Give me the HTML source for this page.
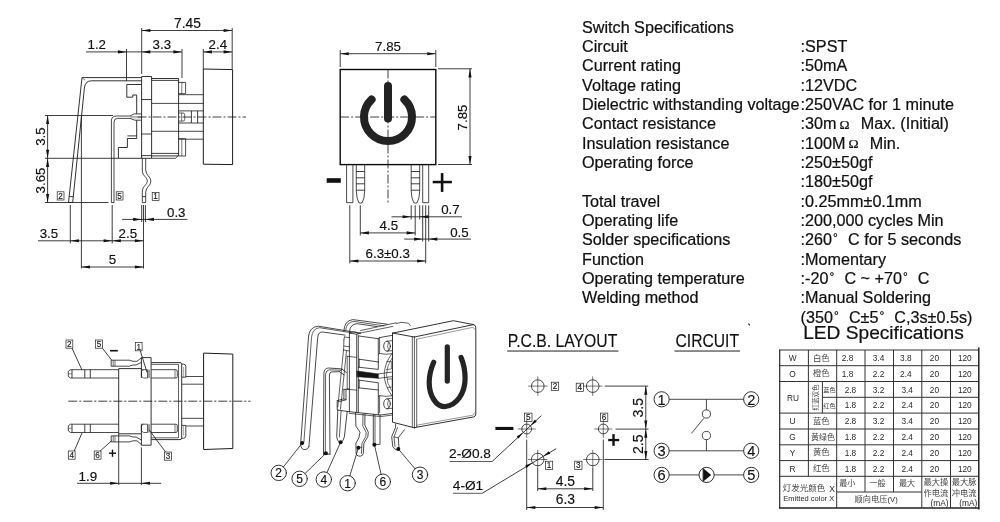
<!DOCTYPE html>
<html><head><meta charset="utf-8"><title>Switch drawing</title>
<style>
html,body{margin:0;padding:0;background:#fff;}
body{width:1000px;height:522px;overflow:hidden;}
svg{display:block;opacity:0.999;will-change:transform;}
svg text{font-family:"Liberation Sans","Noto Sans CJK SC",sans-serif;}
#spec text{stroke:#111;stroke-width:0.22px;}
#sideview text,#frontview text,#botview text,#pcb text,#circuit text,#iso text{stroke:#111;stroke-width:0.15px;}
</style></head><body>
<svg width="1000" height="522" viewBox="0 0 1000 522">
<rect x="0" y="0" width="1000" height="522" fill="#ffffff"/>
<g id="sideview">
<path d="M203.3,69 L232.6,69.6 L232.6,164.6 L203.3,164.2 Z" stroke="#1c1c1c" stroke-width="1.0" fill="none" />
<line x1="137.5" y1="117" x2="246" y2="117" stroke="#1c1c1c" stroke-width="0.85" stroke-dasharray="9 2 2 2"/>
<path d="M141.6,76.5 H151.6 V158.3 H141.6 Z" stroke="#1c1c1c" stroke-width="0.9" fill="none" />
<line x1="141.6" y1="99.5" x2="151.6" y2="99.5" stroke="#1c1c1c" stroke-width="0.85" />
<line x1="141.6" y1="134" x2="151.6" y2="134" stroke="#1c1c1c" stroke-width="0.85" />
<path d="M151.6,78.5 H178.6 V155.9 H151.6" stroke="#1c1c1c" stroke-width="0.9" fill="none" />
<line x1="151.6" y1="80.4" x2="178.6" y2="80.4" stroke="#1c1c1c" stroke-width="0.85" />
<line x1="151.6" y1="153.4" x2="178.6" y2="153.4" stroke="#1c1c1c" stroke-width="0.85" />
<path d="M151.6,158.3 H175.6 L177.8,155.9" stroke="#1c1c1c" stroke-width="0.8" fill="none" />
<line x1="141.6" y1="155.6" x2="151.6" y2="155.6" stroke="#1c1c1c" stroke-width="0.85" />
<path d="M178.6,82.4 H185.6 V93.7 H178.6" stroke="#1c1c1c" stroke-width="0.8" fill="none" />
<line x1="181.8" y1="82.4" x2="181.8" y2="94.7" stroke="#1c1c1c" stroke-width="0.6" />
<path d="M178.6,138.7 H185.6 V156 H178.6" stroke="#1c1c1c" stroke-width="0.8" fill="none" />
<line x1="181.8" y1="138.7" x2="181.8" y2="156" stroke="#1c1c1c" stroke-width="0.6" />
<line x1="178.6" y1="94.7" x2="203.3" y2="94.7" stroke="#1c1c1c" stroke-width="0.8" />
<line x1="178.6" y1="110.9" x2="203.3" y2="110.9" stroke="#1c1c1c" stroke-width="0.8" />
<line x1="178.6" y1="123" x2="203.3" y2="123" stroke="#1c1c1c" stroke-width="0.8" />
<line x1="178.6" y1="139.2" x2="203.3" y2="139.2" stroke="#1c1c1c" stroke-width="0.8" />
<line x1="151.6" y1="103.4" x2="203.3" y2="103.4" stroke="#1c1c1c" stroke-width="0.8" />
<line x1="151.6" y1="131.3" x2="203.3" y2="131.3" stroke="#1c1c1c" stroke-width="0.8" />
<path d="M178.6,113 H183 Q184.7,113 184.7,114.7 V119.4 Q184.7,121.1 183,121.1 H178.6" stroke="#1c1c1c" stroke-width="0.7" fill="none" />
<line x1="181.6" y1="113" x2="181.6" y2="121.1" stroke="#1c1c1c" stroke-width="0.6" />
<line x1="191.4" y1="110.9" x2="191.4" y2="123" stroke="#1c1c1c" stroke-width="0.85" />
<line x1="197.6" y1="110.9" x2="197.6" y2="123" stroke="#1c1c1c" stroke-width="0.85" />
<line x1="127.4" y1="135.9" x2="136.7" y2="135.9" stroke="#1c1c1c" stroke-width="0.85" />
<path d="M141.6,84.5 H126.8 V97.2 H132.8 V95 H136.7 V113.9 M136.7,120.2 V138.5 H127.4 V147.5 H118.4 V158.3 H141.6" stroke="#1c1c1c" stroke-width="0.9" fill="none" />
<path d="M141.6,77.6 H82 L68.5,202.5 H72.7 L84.4,88 Q85.2,80.8 91.5,80.8 H141.6" stroke="#1c1c1c" stroke-width="0.9" fill="none" />
<path d="M82,77.6 L85,80.2" stroke="#1c1c1c" stroke-width="0.6" fill="none" />
<line x1="69.2" y1="196.6" x2="73.3" y2="196.6" stroke="#1c1c1c" stroke-width="0.85" />
<path d="M111.4,202.5 V121 Q111.4,116 116.4,116 H130 L134.2,113.9 H141.4 M114,202.5 V122 Q114,118.4 117.6,118.4 H130 L134.9,120.2 H141.4 M111.4,202.5 H114" stroke="#1c1c1c" stroke-width="0.8" fill="none" />
<path d="M130,116.6 H141 M130,117.8 H141" stroke="#555" stroke-width="0.5" fill="none" />
<path d="M142.3,158.3 V171 C142.3,176 147.4,177 147.4,181 C147.4,185 142.3,186 142.3,191 V202.6 H145.7 V192 C145.7,187 150.9,186 150.9,181 C150.9,177 145.7,175 145.7,170 V158.3" stroke="#1c1c1c" stroke-width="0.8" fill="none" />
<line x1="142.3" y1="196.6" x2="145.7" y2="196.6" stroke="#1c1c1c" stroke-width="0.85" />
<line x1="141.7" y1="28" x2="141.7" y2="74" stroke="#1c1c1c" stroke-width="0.85" />
<line x1="232.2" y1="28" x2="232.2" y2="69" stroke="#1c1c1c" stroke-width="0.85" />
<line x1="141.7" y1="30.5" x2="232.2" y2="30.5" stroke="#1c1c1c" stroke-width="0.85" />
<polygon points="141.70,30.50 150.30,28.95 150.30,32.05" fill="#111"/>
<polygon points="232.20,30.50 223.60,32.05 223.60,28.95" fill="#111"/>
<text x="187.5" y="28.1" font-size="13.8" text-anchor="middle" fill="#111" >7.45</text>
<line x1="86" y1="51.9" x2="182" y2="51.9" stroke="#1c1c1c" stroke-width="0.85" />
<polygon points="126.50,51.90 117.90,53.45 117.90,50.35" fill="#111"/>
<polygon points="141.70,51.90 150.30,50.35 150.30,53.45" fill="#111"/>
<polygon points="182.00,51.90 173.40,53.45 173.40,50.35" fill="#111"/>
<line x1="126.5" y1="49" x2="126.5" y2="81" stroke="#1c1c1c" stroke-width="0.85" />
<line x1="182" y1="49" x2="182" y2="78" stroke="#1c1c1c" stroke-width="0.85" />
<text x="87.5" y="48.6" font-size="13.3" text-anchor="start" fill="#111" >1.2</text>
<text x="161.8" y="48.6" font-size="13.3" text-anchor="middle" fill="#111" >3.3</text>
<line x1="203.3" y1="51.9" x2="232.2" y2="51.9" stroke="#1c1c1c" stroke-width="0.85" />
<polygon points="203.30,51.90 211.90,50.35 211.90,53.45" fill="#111"/>
<polygon points="232.20,51.90 223.60,53.45 223.60,50.35" fill="#111"/>
<line x1="203.3" y1="49" x2="203.3" y2="69" stroke="#1c1c1c" stroke-width="0.85" />
<text x="217.8" y="48.6" font-size="13.3" text-anchor="middle" fill="#111" >2.4</text>
<line x1="45" y1="115.5" x2="113" y2="115.5" stroke="#1c1c1c" stroke-width="0.85" />
<line x1="45" y1="158.3" x2="118.4" y2="158.3" stroke="#1c1c1c" stroke-width="0.85" />
<line x1="45" y1="202.5" x2="108.5" y2="202.5" stroke="#1c1c1c" stroke-width="0.85" />
<line x1="47.6" y1="115.5" x2="47.6" y2="202.5" stroke="#1c1c1c" stroke-width="0.85" />
<polygon points="47.60,115.50 49.15,124.10 46.05,124.10" fill="#111"/>
<polygon points="47.60,158.30 46.05,149.70 49.15,149.70" fill="#111"/>
<polygon points="47.60,158.30 49.15,166.90 46.05,166.90" fill="#111"/>
<polygon points="47.60,202.50 46.05,193.90 49.15,193.90" fill="#111"/>
<text x="44.8" y="136.6" font-size="13.3" text-anchor="middle" fill="#111" transform="rotate(-90 44.8 136.6)" >3.5</text>
<text x="44.8" y="180.5" font-size="13.3" text-anchor="middle" fill="#111" transform="rotate(-90 44.8 180.5)" >3.65</text>
<line x1="70.3" y1="205" x2="70.3" y2="243.4" stroke="#1c1c1c" stroke-width="0.85" />
<line x1="81.4" y1="115.5" x2="81.4" y2="268.5" stroke="#1c1c1c" stroke-width="0.85" />
<line x1="112.2" y1="205" x2="112.2" y2="243.4" stroke="#1c1c1c" stroke-width="0.85" />
<line x1="141.7" y1="205" x2="141.7" y2="222" stroke="#1c1c1c" stroke-width="0.85" />
<line x1="145.4" y1="205" x2="145.4" y2="222" stroke="#1c1c1c" stroke-width="0.85" />
<line x1="143.5" y1="205" x2="143.5" y2="268.5" stroke="#1c1c1c" stroke-width="0.85" />
<line x1="122.2" y1="219.4" x2="187.4" y2="219.4" stroke="#1c1c1c" stroke-width="0.85" />
<polygon points="141.70,219.40 133.10,220.95 133.10,217.85" fill="#111"/>
<polygon points="145.40,219.40 154.00,217.85 154.00,220.95" fill="#111"/>
<text x="167" y="216.8" font-size="13.3" text-anchor="start" fill="#111" >0.3</text>
<line x1="38" y1="240.8" x2="143.5" y2="240.8" stroke="#1c1c1c" stroke-width="0.85" />
<polygon points="70.30,240.80 78.90,239.25 78.90,242.35" fill="#111"/>
<polygon points="112.20,240.80 103.60,242.35 103.60,239.25" fill="#111"/>
<polygon points="112.20,240.80 120.80,239.25 120.80,242.35" fill="#111"/>
<polygon points="143.50,240.80 134.90,242.35 134.90,239.25" fill="#111"/>
<text x="39.7" y="238.3" font-size="13.3" text-anchor="start" fill="#111" >3.5</text>
<text x="118.6" y="238.3" font-size="13.3" text-anchor="start" fill="#111" >2.5</text>
<line x1="81.4" y1="267" x2="143.5" y2="267" stroke="#1c1c1c" stroke-width="0.85" />
<polygon points="81.40,267.00 90.00,265.45 90.00,268.55" fill="#111"/>
<polygon points="143.50,267.00 134.90,268.55 134.90,265.45" fill="#111"/>
<text x="112.4" y="264" font-size="13.3" text-anchor="middle" fill="#111" >5</text>
<rect x="57.2" y="191.8" width="6.8" height="8.2" stroke="#222" stroke-width="0.7" fill="none"/>
<text x="60.6" y="198.7" font-size="8.2" text-anchor="middle" fill="#222" >2</text>
<rect x="116.2" y="191.8" width="6.8" height="8.2" stroke="#222" stroke-width="0.7" fill="none"/>
<text x="119.60000000000001" y="198.7" font-size="8.2" text-anchor="middle" fill="#222" >5</text>
<rect x="152.2" y="192.4" width="6.8" height="8.2" stroke="#222" stroke-width="0.7" fill="none"/>
<text x="155.6" y="199.29999999999998" font-size="8.2" text-anchor="middle" fill="#222" >1</text>
</g>
<g id="frontview">
<rect x="340.2" y="69.5" width="95.6" height="95.1" stroke="#0a0a0a" stroke-width="1.4" fill="none"/>
<line x1="340.2" y1="117" x2="435.8" y2="117" stroke="#1c1c1c" stroke-width="0.85" stroke-dasharray="9 2 2 2"/>
<line x1="388" y1="69.5" x2="388" y2="203" stroke="#1c1c1c" stroke-width="0.85" stroke-dasharray="9 2 2 2"/>
<line x1="388" y1="86" x2="388" y2="118.4" stroke="#222" stroke-width="8" stroke-linecap="round"/>
<path d="M371.63,99.45 A24,24 0 1 0 404.37,99.45" stroke="#222" stroke-width="8" stroke-linecap="round" fill="none"/>
<path d="M346.6,164.6 V202.7 H352.9 V164.6" stroke="#1c1c1c" stroke-width="0.8" fill="none" />
<path d="M422.7,164.6 V202.7 H428.7 V164.6" stroke="#1c1c1c" stroke-width="0.8" fill="none" />
<path d="M356.3,164.6 V191 Q356.6,199 358.8,202.6 Q360.5,203.8 362.2,202.6 Q364.4,199 364.7,191 V164.6" stroke="#1c1c1c" stroke-width="0.8" fill="none" />
<line x1="356.3" y1="171.5" x2="364.7" y2="171.5" stroke="#1c1c1c" stroke-width="0.85" />
<line x1="356.3" y1="177.8" x2="364.7" y2="177.8" stroke="#1c1c1c" stroke-width="0.85" />
<line x1="356.3" y1="183.8" x2="364.7" y2="183.8" stroke="#1c1c1c" stroke-width="0.85" />
<line x1="356.3" y1="190.2" x2="364.7" y2="190.2" stroke="#1c1c1c" stroke-width="0.85" />
<path d="M411.2,164.6 V191 Q411.5,199 413.75,202.6 Q415.45,203.8 417.15,202.6 Q419.4,199 419.7,191 V164.6" stroke="#1c1c1c" stroke-width="0.8" fill="none" />
<line x1="411.2" y1="171.5" x2="419.7" y2="171.5" stroke="#1c1c1c" stroke-width="0.85" />
<line x1="411.2" y1="177.8" x2="419.7" y2="177.8" stroke="#1c1c1c" stroke-width="0.85" />
<line x1="411.2" y1="183.8" x2="419.7" y2="183.8" stroke="#1c1c1c" stroke-width="0.85" />
<line x1="411.2" y1="190.2" x2="419.7" y2="190.2" stroke="#1c1c1c" stroke-width="0.85" />
<rect x="326.7" y="178.2" width="14.1" height="4.6" fill="#111"/>
<rect x="432.7" y="180.8" width="19.2" height="2.5" fill="#111"/><rect x="440.8" y="173.1" width="2.6" height="18.8" fill="#111"/>
<line x1="340.2" y1="50" x2="340.2" y2="67" stroke="#1c1c1c" stroke-width="0.85" />
<line x1="435.8" y1="50" x2="435.8" y2="67" stroke="#1c1c1c" stroke-width="0.85" />
<line x1="340.2" y1="53.7" x2="435.8" y2="53.7" stroke="#1c1c1c" stroke-width="0.85" />
<polygon points="340.20,53.70 348.80,52.15 348.80,55.25" fill="#111"/>
<polygon points="435.80,53.70 427.20,55.25 427.20,52.15" fill="#111"/>
<text x="388" y="50.7" font-size="13.3" text-anchor="middle" fill="#111" >7.85</text>
<line x1="438" y1="68.8" x2="472" y2="68.8" stroke="#1c1c1c" stroke-width="0.85" />
<line x1="438" y1="164.5" x2="472" y2="164.5" stroke="#1c1c1c" stroke-width="0.85" />
<line x1="470" y1="68.8" x2="470" y2="164.5" stroke="#1c1c1c" stroke-width="0.85" />
<polygon points="470.00,68.80 471.55,77.40 468.45,77.40" fill="#111"/>
<polygon points="470.00,164.50 468.45,155.90 471.55,155.90" fill="#111"/>
<text x="467.0" y="117.5" font-size="13.3" text-anchor="middle" fill="#111" transform="rotate(-90 467.0 117.5)" >7.85</text>
<line x1="349.8" y1="205.3" x2="349.8" y2="263.4" stroke="#1c1c1c" stroke-width="0.85" />
<line x1="360.3" y1="205.3" x2="360.3" y2="235.5" stroke="#1c1c1c" stroke-width="0.85" />
<line x1="411.2" y1="205.3" x2="411.2" y2="219.4" stroke="#1c1c1c" stroke-width="0.85" />
<line x1="419.7" y1="205.3" x2="419.7" y2="219.4" stroke="#1c1c1c" stroke-width="0.85" />
<line x1="415.2" y1="205.3" x2="415.2" y2="235.5" stroke="#1c1c1c" stroke-width="0.85" />
<line x1="422.7" y1="205.3" x2="422.7" y2="241.5" stroke="#1c1c1c" stroke-width="0.85" />
<line x1="428.7" y1="205.3" x2="428.7" y2="241.5" stroke="#1c1c1c" stroke-width="0.85" />
<line x1="425.7" y1="205.3" x2="425.7" y2="263.4" stroke="#1c1c1c" stroke-width="0.85" />
<line x1="391.5" y1="216.8" x2="461.9" y2="216.8" stroke="#1c1c1c" stroke-width="0.85" />
<polygon points="411.20,216.80 402.60,218.35 402.60,215.25" fill="#111"/>
<polygon points="419.70,216.80 428.30,215.25 428.30,218.35" fill="#111"/>
<text x="441.2" y="214" font-size="13.3" text-anchor="start" fill="#111" >0.7</text>
<line x1="360.3" y1="232.9" x2="415.2" y2="232.9" stroke="#1c1c1c" stroke-width="0.85" />
<polygon points="360.30,232.90 368.90,231.35 368.90,234.45" fill="#111"/>
<polygon points="415.20,232.90 406.60,234.45 406.60,231.35" fill="#111"/>
<text x="388.8" y="230" font-size="13.3" text-anchor="middle" fill="#111" >4.5</text>
<line x1="404.2" y1="239.1" x2="471" y2="239.1" stroke="#1c1c1c" stroke-width="0.85" />
<polygon points="422.70,239.10 414.10,240.65 414.10,237.55" fill="#111"/>
<polygon points="428.70,239.10 437.30,237.55 437.30,240.65" fill="#111"/>
<text x="450.2" y="236.5" font-size="13.3" text-anchor="start" fill="#111" >0.5</text>
<line x1="349.8" y1="261" x2="425.7" y2="261" stroke="#1c1c1c" stroke-width="0.85" />
<polygon points="349.80,261.00 358.40,259.45 358.40,262.55" fill="#111"/>
<polygon points="425.70,261.00 417.10,262.55 417.10,259.45" fill="#111"/>
<text x="387.7" y="258" font-size="13.3" text-anchor="middle" fill="#111" >6.3±0.3</text>
</g>
<g id="spec" font-size="16.18" fill="#111">
<text x="582" y="32.8" font-size="16.18">Switch Specifications</text>
<text x="582" y="52.13" font-size="16.18">Circuit</text>
<text x="800.6" y="52.13" font-size="16.18" xml:space="preserve">:SPST</text>
<text x="582" y="71.46" font-size="16.18">Current rating</text>
<text x="800.6" y="71.46" font-size="16.18" xml:space="preserve">:50mA</text>
<text x="582" y="90.79" font-size="16.18">Voltage rating</text>
<text x="800.6" y="90.79" font-size="16.18" xml:space="preserve">:12VDC</text>
<text x="582" y="110.12" font-size="16.18">Dielectric withstanding voltage</text>
<text x="800.6" y="110.12" font-size="16.18" xml:space="preserve">:250VAC for 1 minute</text>
<text x="582" y="129.45" font-size="16.18">Contact resistance</text>
<text x="800.6" y="129.45" font-size="16.18" xml:space="preserve">:30m<tspan font-family="Liberation Serif" font-size="13.5" dx="3" dy="-0.6">Ω</tspan><tspan dx="2.2" dy="0.6"> </tspan> Max. (Initial)</text>
<text x="582" y="148.78" font-size="16.18">Insulation resistance</text>
<text x="800.6" y="148.78" font-size="16.18" xml:space="preserve">:100M<tspan font-family="Liberation Serif" font-size="13.5" dx="3" dy="-0.6">Ω</tspan><tspan dx="2.2" dy="0.6"> </tspan> Min.</text>
<text x="582" y="168.11" font-size="16.18">Operating force</text>
<text x="800.6" y="168.11" font-size="16.18" xml:space="preserve">:250±50gf</text>
<text x="800.6" y="187.44" font-size="16.18" xml:space="preserve">:180±50gf</text>
<text x="582" y="206.77" font-size="16.18">Total travel</text>
<text x="800.6" y="206.77" font-size="16.18" xml:space="preserve">:0.25mm±0.1mm</text>
<text x="582" y="226.1" font-size="16.18">Operating life</text>
<text x="800.6" y="226.1" font-size="16.18" xml:space="preserve">:200,000 cycles Min</text>
<text x="582" y="245.43" font-size="16.18">Solder specifications</text>
<text x="800.6" y="245.43" font-size="16.18" xml:space="preserve">:260<tspan font-size="12" dy="-3" dx="1">°</tspan><tspan dy="3" dx="5.6"> </tspan>C for 5 seconds</text>
<text x="582" y="264.76" font-size="16.18">Function</text>
<text x="800.6" y="264.76" font-size="16.18" xml:space="preserve">:Momentary</text>
<text x="582" y="284.09" font-size="16.18">Operating temperature</text>
<text x="800.6" y="284.09" font-size="16.18" xml:space="preserve">:-20<tspan font-size="12" dy="-3" dx="1">°</tspan><tspan dy="3" dx="5.6"> </tspan>C ~ +70<tspan font-size="12" dy="-3" dx="1">°</tspan><tspan dy="3" dx="5.6"> </tspan>C</text>
<text x="582" y="303.42" font-size="16.18">Welding method</text>
<text x="800.6" y="303.42" font-size="16.18" xml:space="preserve">:Manual Soldering</text>
<text x="800.6" y="322.75" font-size="16.18" xml:space="preserve">(350<tspan font-size="12" dy="-3" dx="1">°</tspan><tspan dy="3" dx="5.6"> </tspan>C±5<tspan font-size="12" dy="-3" dx="1">°</tspan><tspan dy="3" dx="5.6"> </tspan>C,3s±0.5s)</text>
<text x="803.2" y="339.1" font-size="19.15">LED Specifications</text>
</g>
<g id="botview">
<path d="M203.6,353.1 L232.8,354.1 V448.5 L203.6,449.5 Z" stroke="#1c1c1c" stroke-width="1.0" fill="none" />
<line x1="68.3" y1="401.2" x2="250.5" y2="401.2" stroke="#1c1c1c" stroke-width="0.85" stroke-dasharray="9 2 2 2"/>
<path d="M118.7,368.6 V433.8" stroke="#1c1c1c" stroke-width="0.9" fill="none" />
<line x1="118.7" y1="368.6" x2="141.4" y2="368.6" stroke="#1c1c1c" stroke-width="0.9" />
<line x1="118.7" y1="433.8" x2="141.4" y2="433.8" stroke="#1c1c1c" stroke-width="0.9" />
<path d="M141.4,378 V357.6 H151.1 V445.2 H141.4 V424.2" stroke="#1c1c1c" stroke-width="0.9" fill="none" />
<path d="M151.3,362.6 H180 Q181.7,362.6 181.7,364.3 V437.8 Q181.7,439.6 180,439.6 H151.3" stroke="#1c1c1c" stroke-width="0.9" fill="none" />
<path d="M151.3,364.4 H178.5 V437.8 H151.3" stroke="#1c1c1c" stroke-width="0.7" fill="none" />
<path d="M181.7,364.2 H183.8 Q185.8,364.4 185.8,366.5 V377.2 H181.7" stroke="#1c1c1c" stroke-width="0.8" fill="none" />
<path d="M181.7,438.2 H183.8 Q185.8,438 185.8,435.9 V425.4 H181.7" stroke="#1c1c1c" stroke-width="0.8" fill="none" />
<line x1="183.6" y1="367" x2="183.6" y2="377.2" stroke="#555" stroke-width="0.5" />
<line x1="183.6" y1="425.4" x2="183.6" y2="435.6" stroke="#555" stroke-width="0.5" />
<line x1="185.8" y1="376.5" x2="203.4" y2="376.5" stroke="#1c1c1c" stroke-width="0.8" />
<line x1="181.7" y1="384.2" x2="203.4" y2="384.2" stroke="#1c1c1c" stroke-width="0.8" />
<line x1="181.7" y1="418.3" x2="203.4" y2="418.3" stroke="#1c1c1c" stroke-width="0.8" />
<line x1="185.8" y1="426" x2="203.4" y2="426" stroke="#1c1c1c" stroke-width="0.8" />
<path d="M118.7,369.7 H70.5 L68.3,371.3 V376.4 L70.5,378.0 H118.7" stroke="#1c1c1c" stroke-width="0.8" fill="none" />
<line x1="72" y1="369.7" x2="72" y2="378.0" stroke="#1c1c1c" stroke-width="0.85" />
<line x1="84.8" y1="369.7" x2="84.8" y2="378.0" stroke="#1c1c1c" stroke-width="0.85" />
<line x1="90.3" y1="369.7" x2="90.3" y2="378.0" stroke="#1c1c1c" stroke-width="0.85" />
<line x1="68.3" y1="373.8" x2="72" y2="373.8" stroke="#1c1c1c" stroke-width="0.5" />
<path d="M118.7,424.2 H70.5 L68.3,425.8 V430.9 L70.5,432.5 H118.7" stroke="#1c1c1c" stroke-width="0.8" fill="none" />
<line x1="72" y1="424.2" x2="72" y2="432.5" stroke="#1c1c1c" stroke-width="0.85" />
<line x1="84.8" y1="424.2" x2="84.8" y2="432.5" stroke="#1c1c1c" stroke-width="0.85" />
<line x1="90.3" y1="424.2" x2="90.3" y2="432.5" stroke="#1c1c1c" stroke-width="0.85" />
<line x1="68.3" y1="428.3" x2="72" y2="428.3" stroke="#1c1c1c" stroke-width="0.5" />
<path d="M141.4,369.7 H143.5 M151.3,369.7 H175.8 Q177.3,369.7 177.3,371.2 V376.5 Q177.3,378.0 175.8,378.0 H151.3" stroke="#1c1c1c" stroke-width="0.8" fill="none" />
<path d="M143.6,369.7 L141.4,371.3 V376.4 L143.6,378.0 H147.5 V369.7 H143.6" stroke="#1c1c1c" stroke-width="0.7" fill="none" />
<line x1="149" y1="369.7" x2="149" y2="378.0" stroke="#1c1c1c" stroke-width="0.85" />
<line x1="175" y1="369.7" x2="175" y2="378.0" stroke="#1c1c1c" stroke-width="0.6" />
<path d="M141.4,424.2 H143.5 M151.3,424.2 H175.8 Q177.3,424.2 177.3,425.7 V431.0 Q177.3,432.5 175.8,432.5 H151.3" stroke="#1c1c1c" stroke-width="0.8" fill="none" />
<path d="M143.6,424.2 L141.4,425.8 V430.9 L143.6,432.5 H147.5 V424.2 H143.6" stroke="#1c1c1c" stroke-width="0.7" fill="none" />
<line x1="149" y1="424.2" x2="149" y2="432.5" stroke="#1c1c1c" stroke-width="0.85" />
<line x1="175" y1="424.2" x2="175" y2="432.5" stroke="#1c1c1c" stroke-width="0.6" />
<path d="M111.2,360.2 H129.3 L133,361.3 H137 L141.4,357.8 M111.2,366.2 H129.3 L133,365 H136 L141.4,362.4 M111.2,360.2 V366.2" stroke="#1c1c1c" stroke-width="0.8" fill="none" />
<line x1="113.2" y1="360.2" x2="113.2" y2="366.2" stroke="#1c1c1c" stroke-width="0.6" />
<line x1="115" y1="360.2" x2="115" y2="366.2" stroke="#1c1c1c" stroke-width="0.6" />
<path d="M111.2,441.9 H129.3 L133,440.8 H137 L141.4,444.6 M111.2,435.9 H129.3 L133,437 H136 L141.4,440 M111.2,435.9 V441.9" stroke="#1c1c1c" stroke-width="0.8" fill="none" />
<line x1="113.2" y1="435.9" x2="113.2" y2="441.9" stroke="#1c1c1c" stroke-width="0.6" />
<line x1="115" y1="435.9" x2="115" y2="441.9" stroke="#1c1c1c" stroke-width="0.6" />
<rect x="66" y="340" width="6.8" height="8.2" stroke="#222" stroke-width="0.7" fill="none"/>
<text x="69.4" y="346.9" font-size="8.2" text-anchor="middle" fill="#222" >2</text>
<rect x="95.6" y="340" width="6.8" height="8.2" stroke="#222" stroke-width="0.7" fill="none"/>
<text x="99.0" y="346.9" font-size="8.2" text-anchor="middle" fill="#222" >5</text>
<rect x="135.3" y="342.6" width="6.8" height="8.2" stroke="#222" stroke-width="0.7" fill="none"/>
<text x="138.70000000000002" y="349.5" font-size="8.2" text-anchor="middle" fill="#222" >1</text>
<rect x="68.3" y="451" width="6.8" height="8.2" stroke="#222" stroke-width="0.7" fill="none"/>
<text x="71.7" y="457.9" font-size="8.2" text-anchor="middle" fill="#222" >4</text>
<rect x="94.2" y="451" width="6.8" height="8.2" stroke="#222" stroke-width="0.7" fill="none"/>
<text x="97.60000000000001" y="457.9" font-size="8.2" text-anchor="middle" fill="#222" >6</text>
<rect x="164.6" y="452" width="6.8" height="8.2" stroke="#222" stroke-width="0.7" fill="none"/>
<text x="168.0" y="458.9" font-size="8.2" text-anchor="middle" fill="#222" >3</text>
<line x1="72" y1="348.2" x2="82" y2="370" stroke="#1c1c1c" stroke-width="0.85" />
<line x1="102.4" y1="348.2" x2="111.7" y2="360.2" stroke="#1c1c1c" stroke-width="0.85" />
<line x1="140.3" y1="350.8" x2="147" y2="372.4" stroke="#1c1c1c" stroke-width="0.85" />
<line x1="74.2" y1="451" x2="82" y2="433" stroke="#1c1c1c" stroke-width="0.85" />
<line x1="100.2" y1="451" x2="111.7" y2="440.7" stroke="#1c1c1c" stroke-width="0.85" />
<line x1="165.6" y1="452" x2="149" y2="429.7" stroke="#1c1c1c" stroke-width="0.85" />
<rect x="110" y="349.9" width="7.8" height="1.6" fill="#111"/>
<rect x="109" y="452.5" width="7" height="1.4" fill="#111"/><rect x="111.8" y="449.6" width="1.4" height="7.2" fill="#111"/>
<line x1="118.7" y1="433.8" x2="118.7" y2="485" stroke="#1c1c1c" stroke-width="0.85" />
<line x1="141.4" y1="447.4" x2="141.4" y2="485" stroke="#1c1c1c" stroke-width="0.85" />
<line x1="77.1" y1="483.3" x2="161.2" y2="483.3" stroke="#1c1c1c" stroke-width="0.85" />
<polygon points="118.70,483.30 110.10,484.85 110.10,481.75" fill="#111"/>
<polygon points="141.40,483.30 150.00,481.75 150.00,484.85" fill="#111"/>
<text x="78.6" y="480.6" font-size="13.4" text-anchor="start" fill="#111" >1.9</text>
</g>
<g id="pcb">
<text x="507.8" y="347.2" font-size="18" textLength="109.5" lengthAdjust="spacingAndGlyphs" fill="#111">P.C.B. LAYOUT</text>
<rect x="507.2" y="350.3" width="111.2" height="1.5" fill="#6a6a6a"/>
<circle cx="537.8" cy="386.1" r="6.3" stroke="#1c1c1c" stroke-width="0.8" fill="none"/>
<line x1="528.0999999999999" y1="386.1" x2="547.5" y2="386.1" stroke="#1c1c1c" stroke-width="0.6" />
<line x1="537.8" y1="376.40000000000003" x2="537.8" y2="395.8" stroke="#1c1c1c" stroke-width="0.6" />
<circle cx="592.7" cy="386.1" r="6.3" stroke="#1c1c1c" stroke-width="0.8" fill="none"/>
<line x1="583.0" y1="386.1" x2="602.4000000000001" y2="386.1" stroke="#1c1c1c" stroke-width="0.6" />
<line x1="592.7" y1="376.40000000000003" x2="592.7" y2="395.8" stroke="#1c1c1c" stroke-width="0.6" />
<circle cx="537.7" cy="459.5" r="6.3" stroke="#1c1c1c" stroke-width="0.8" fill="none"/>
<line x1="528.0" y1="459.5" x2="547.4000000000001" y2="459.5" stroke="#1c1c1c" stroke-width="0.6" />
<line x1="537.7" y1="449.8" x2="537.7" y2="469.2" stroke="#1c1c1c" stroke-width="0.6" />
<circle cx="592.8" cy="459.5" r="6.3" stroke="#1c1c1c" stroke-width="0.8" fill="none"/>
<line x1="583.0999999999999" y1="459.5" x2="602.5" y2="459.5" stroke="#1c1c1c" stroke-width="0.6" />
<line x1="592.8" y1="449.8" x2="592.8" y2="469.2" stroke="#1c1c1c" stroke-width="0.6" />
<circle cx="526.7" cy="429" r="4.9" stroke="#1c1c1c" stroke-width="0.8" fill="none"/>
<line x1="517.7" y1="429" x2="535.7" y2="429" stroke="#1c1c1c" stroke-width="0.6" />
<line x1="526.7" y1="420.0" x2="526.7" y2="438.0" stroke="#1c1c1c" stroke-width="0.6" />
<circle cx="603.3" cy="429" r="4.9" stroke="#1c1c1c" stroke-width="0.8" fill="none"/>
<line x1="594.3" y1="429" x2="612.3" y2="429" stroke="#1c1c1c" stroke-width="0.6" />
<line x1="603.3" y1="420.0" x2="603.3" y2="438.0" stroke="#1c1c1c" stroke-width="0.6" />
<rect x="551.3" y="382.2" width="7.4" height="8.3" stroke="#222" stroke-width="0.7" fill="none"/>
<text x="555.0" y="389.2" font-size="8.2" text-anchor="middle" fill="#222" >2</text>
<rect x="576.2" y="383.2" width="7.4" height="8.3" stroke="#222" stroke-width="0.7" fill="none"/>
<text x="579.9000000000001" y="390.2" font-size="8.2" text-anchor="middle" fill="#222" >4</text>
<rect x="524.6" y="413.1" width="7.4" height="8.3" stroke="#222" stroke-width="0.7" fill="none"/>
<text x="528.3000000000001" y="420.1" font-size="8.2" text-anchor="middle" fill="#222" >5</text>
<rect x="600.4" y="413.1" width="7.4" height="8.3" stroke="#222" stroke-width="0.7" fill="none"/>
<text x="604.1" y="420.1" font-size="8.2" text-anchor="middle" fill="#222" >6</text>
<rect x="545.4" y="461.2" width="7.3" height="8.2" stroke="#222" stroke-width="0.7" fill="none"/>
<text x="549.05" y="468.09999999999997" font-size="8.2" text-anchor="middle" fill="#222" >1</text>
<rect x="574.7" y="461.2" width="7.3" height="8.2" stroke="#222" stroke-width="0.7" fill="none"/>
<text x="578.35" y="468.09999999999997" font-size="8.2" text-anchor="middle" fill="#222" >3</text>
<rect x="495.4" y="426.9" width="18" height="3.1" fill="#111"/>
<rect x="608.2" y="438.9" width="11" height="2.3" fill="#111"/><rect x="612.3" y="434.1" width="2.4" height="11.7" fill="#111"/>
<line x1="604.8" y1="386.1" x2="648.2" y2="386.1" stroke="#1c1c1c" stroke-width="0.85" />
<line x1="615.5" y1="429.1" x2="648.5" y2="429.1" stroke="#1c1c1c" stroke-width="0.85" />
<line x1="604.4" y1="459.5" x2="648.5" y2="459.5" stroke="#1c1c1c" stroke-width="0.85" />
<line x1="645.8" y1="386.1" x2="645.8" y2="459.5" stroke="#1c1c1c" stroke-width="0.85" />
<polygon points="645.80,386.10 647.35,394.70 644.25,394.70" fill="#111"/>
<polygon points="645.80,429.10 644.25,420.50 647.35,420.50" fill="#111"/>
<polygon points="645.80,429.10 647.35,437.70 644.25,437.70" fill="#111"/>
<polygon points="645.80,459.50 644.25,450.90 647.35,450.90" fill="#111"/>
<text x="643.4" y="407.7" font-size="14" text-anchor="middle" fill="#111" transform="rotate(-90 643.4 407.7)" >3.5</text>
<text x="643.4" y="444.2" font-size="14" text-anchor="middle" fill="#111" transform="rotate(-90 643.4 444.2)" >2.5</text>
<line x1="526.7" y1="439.6" x2="526.7" y2="510" stroke="#1c1c1c" stroke-width="0.85" />
<line x1="603.3" y1="439.6" x2="603.3" y2="510" stroke="#1c1c1c" stroke-width="0.85" />
<line x1="537.7" y1="468.5" x2="537.7" y2="491" stroke="#1c1c1c" stroke-width="0.85" />
<line x1="592.8" y1="468.5" x2="592.8" y2="491" stroke="#1c1c1c" stroke-width="0.85" />
<line x1="537.7" y1="488.8" x2="592.8" y2="488.8" stroke="#1c1c1c" stroke-width="0.85" />
<polygon points="537.70,488.80 546.30,487.25 546.30,490.35" fill="#111"/>
<polygon points="592.80,488.80 584.20,490.35 584.20,487.25" fill="#111"/>
<text x="565.4" y="486" font-size="13.9" text-anchor="middle" fill="#111" >4.5</text>
<line x1="526.7" y1="507.5" x2="603.3" y2="507.5" stroke="#1c1c1c" stroke-width="0.85" />
<polygon points="526.70,507.50 535.30,505.95 535.30,509.05" fill="#111"/>
<polygon points="603.30,507.50 594.70,509.05 594.70,505.95" fill="#111"/>
<text x="565.4" y="504.4" font-size="13.9" text-anchor="middle" fill="#111" >6.3</text>
<text x="449.1" y="458.3" font-size="13.7" text-anchor="start" fill="#111" >2-Ø0.8</text>
<line x1="449.5" y1="461.5" x2="492.1" y2="461.5" stroke="#333" stroke-width="0.8" />
<line x1="492.1" y1="461.5" x2="541.4" y2="415.6" stroke="#1c1c1c" stroke-width="0.85" />
<polygon points="523.10,432.40 518.57,438.54 516.66,436.49" fill="#111"/>
<polygon points="530.30,425.70 534.91,419.62 536.79,421.70" fill="#111"/>
<text x="452.8" y="489.9" font-size="13.7" text-anchor="start" fill="#111" >4-Ø1</text>
<line x1="453" y1="493.3" x2="482.2" y2="493.3" stroke="#333" stroke-width="0.8" />
<line x1="482.2" y1="493.3" x2="556.2" y2="448.6" stroke="#1c1c1c" stroke-width="0.85" />
<polygon points="532.30,462.80 526.61,467.88 525.16,465.48" fill="#111"/>
<polygon points="543.10,456.30 548.82,451.25 550.25,453.65" fill="#111"/>
</g>
<g id="circuit">
<text x="675.5" y="347.3" font-size="18" textLength="63.5" lengthAdjust="spacingAndGlyphs" fill="#111">CIRCUIT</text>
<rect x="674.5" y="350.3" width="65.5" height="1.5" fill="#6a6a6a"/>
<circle cx="661.6" cy="399.3" r="7.6" stroke="#1c1c1c" stroke-width="0.9" fill="none"/>
<text x="661.6" y="404.5" font-size="14.6" text-anchor="middle" fill="#111" >1</text>
<circle cx="751.2" cy="399.3" r="7.6" stroke="#1c1c1c" stroke-width="0.9" fill="none"/>
<text x="751.2" y="404.5" font-size="14.6" text-anchor="middle" fill="#111" >2</text>
<circle cx="661.6" cy="450.8" r="7.6" stroke="#1c1c1c" stroke-width="0.9" fill="none"/>
<text x="661.6" y="456.0" font-size="14.6" text-anchor="middle" fill="#111" >3</text>
<circle cx="751.2" cy="450.8" r="7.6" stroke="#1c1c1c" stroke-width="0.9" fill="none"/>
<text x="751.2" y="456.0" font-size="14.6" text-anchor="middle" fill="#111" >4</text>
<circle cx="661.6" cy="474.9" r="7.6" stroke="#1c1c1c" stroke-width="0.9" fill="none"/>
<text x="661.6" y="480.09999999999997" font-size="14.6" text-anchor="middle" fill="#111" >6</text>
<circle cx="751.2" cy="474.9" r="7.6" stroke="#1c1c1c" stroke-width="0.9" fill="none"/>
<text x="751.2" y="480.09999999999997" font-size="14.6" text-anchor="middle" fill="#111" >5</text>
<line x1="669.2" y1="399.3" x2="743.6" y2="399.3" stroke="#1c1c1c" stroke-width="0.8" />
<line x1="669.2" y1="450.8" x2="743.6" y2="450.8" stroke="#1c1c1c" stroke-width="0.8" />
<line x1="669.2" y1="474.9" x2="699" y2="474.9" stroke="#1c1c1c" stroke-width="0.8" />
<line x1="714.2" y1="474.9" x2="743.6" y2="474.9" stroke="#1c1c1c" stroke-width="0.8" />
<line x1="706.4" y1="399.3" x2="706.4" y2="409.9" stroke="#1c1c1c" stroke-width="0.8" />
<circle cx="706.4" cy="414" r="4.1" stroke="#1c1c1c" stroke-width="0.8" fill="none"/>
<circle cx="706.4" cy="435.5" r="4.1" stroke="#1c1c1c" stroke-width="0.8" fill="none"/>
<line x1="706.4" y1="439.6" x2="706.4" y2="450.8" stroke="#1c1c1c" stroke-width="0.8" />
<line x1="703.8" y1="418.3" x2="691.4" y2="433.4" stroke="#1c1c1c" stroke-width="0.8" />
<circle cx="706.6" cy="474.9" r="7.6" stroke="#1c1c1c" stroke-width="0.9" fill="none"/>
<polygon points="703.2,468.3 703.2,481.5 711.2,474.9" fill="#111"/>
<line x1="703.1" y1="468" x2="703.1" y2="481.8" stroke="#1c1c1c" stroke-width="0.9" />
<path d="M748.4,323.7 L749.8,325.3" stroke="#222" stroke-width="1.1"/>
</g>
<g id="ledtable">
<line x1="779.7" y1="350" x2="978.8" y2="350" stroke="#333" stroke-width="1.0" />
<line x1="779.7" y1="365.7" x2="978.8" y2="365.7" stroke="#333" stroke-width="1.0" />
<line x1="779.7" y1="381.5" x2="978.8" y2="381.5" stroke="#333" stroke-width="1.0" />
<line x1="822.4" y1="397.3" x2="978.8" y2="397.3" stroke="#333" stroke-width="1.0" />
<line x1="779.7" y1="413.1" x2="978.8" y2="413.1" stroke="#333" stroke-width="1.0" />
<line x1="779.7" y1="429.0" x2="978.8" y2="429.0" stroke="#333" stroke-width="1.0" />
<line x1="779.7" y1="444.8" x2="978.8" y2="444.8" stroke="#333" stroke-width="1.0" />
<line x1="779.7" y1="460.6" x2="978.8" y2="460.6" stroke="#333" stroke-width="1.0" />
<line x1="779.7" y1="476.3" x2="978.8" y2="476.3" stroke="#333" stroke-width="1.0" />
<line x1="836.7" y1="492" x2="921.8" y2="492" stroke="#333" stroke-width="1.0" />
<line x1="808.4" y1="350" x2="808.4" y2="476.3" stroke="#333" stroke-width="1.0" />
<line x1="822.4" y1="381.5" x2="822.4" y2="413.1" stroke="#333" stroke-width="1.0" />
<line x1="836.7" y1="350" x2="836.7" y2="507.9" stroke="#333" stroke-width="1.0" />
<line x1="865" y1="350" x2="865" y2="492" stroke="#333" stroke-width="1.0" />
<line x1="893.5" y1="350" x2="893.5" y2="492" stroke="#333" stroke-width="1.0" />
<line x1="921.8" y1="350" x2="921.8" y2="507.9" stroke="#333" stroke-width="1.0" />
<line x1="950.5" y1="350" x2="950.5" y2="507.9" stroke="#333" stroke-width="1.0" />
<line x1="779.7" y1="349.5" x2="779.7" y2="508.5" stroke="#2a2a2a" stroke-width="1.2" />
<line x1="978.8" y1="347.5" x2="978.8" y2="509.4" stroke="#222" stroke-width="1.5" />
<line x1="779.1" y1="507.9" x2="979.4" y2="507.9" stroke="#222" stroke-width="1.5" />
<text x="792.6" y="361.0" font-size="8.3" text-anchor="middle" fill="#2a2a2a" >W</text>
<text x="813" y="360.5" font-size="8.4" text-anchor="start" fill="#444">白色</text>
<text x="847.6" y="361.0" font-size="8.3" text-anchor="middle" fill="#2a2a2a" >2.8</text>
<text x="878.6" y="361.0" font-size="8.3" text-anchor="middle" fill="#2a2a2a" >3.4</text>
<text x="905.8" y="361.0" font-size="8.3" text-anchor="middle" fill="#2a2a2a" >3.8</text>
<text x="934.4" y="361.0" font-size="8.3" text-anchor="middle" fill="#2a2a2a" >20</text>
<text x="964.8" y="361.0" font-size="8.3" text-anchor="middle" fill="#2a2a2a" >120</text>
<text x="792.6" y="376.7" font-size="8.3" text-anchor="middle" fill="#2a2a2a" >O</text>
<text x="813" y="376.2" font-size="8.4" text-anchor="start" fill="#444">橙色</text>
<text x="847.6" y="376.7" font-size="8.3" text-anchor="middle" fill="#2a2a2a" >1.8</text>
<text x="878.6" y="376.7" font-size="8.3" text-anchor="middle" fill="#2a2a2a" >2.2</text>
<text x="905.8" y="376.7" font-size="8.3" text-anchor="middle" fill="#2a2a2a" >2.4</text>
<text x="934.4" y="376.7" font-size="8.3" text-anchor="middle" fill="#2a2a2a" >20</text>
<text x="964.8" y="376.7" font-size="8.3" text-anchor="middle" fill="#2a2a2a" >120</text>
<text x="850.4" y="392.5" font-size="8.3" text-anchor="middle" fill="#2a2a2a" >2.8</text>
<text x="878.6" y="392.5" font-size="8.3" text-anchor="middle" fill="#2a2a2a" >3.2</text>
<text x="907.2" y="392.5" font-size="8.3" text-anchor="middle" fill="#2a2a2a" >3.4</text>
<text x="934.4" y="392.5" font-size="8.3" text-anchor="middle" fill="#2a2a2a" >20</text>
<text x="964.8" y="392.5" font-size="8.3" text-anchor="middle" fill="#2a2a2a" >120</text>
<text x="850.4" y="408.3" font-size="8.3" text-anchor="middle" fill="#2a2a2a" >1.8</text>
<text x="878.6" y="408.3" font-size="8.3" text-anchor="middle" fill="#2a2a2a" >2.2</text>
<text x="907.2" y="408.3" font-size="8.3" text-anchor="middle" fill="#2a2a2a" >2.4</text>
<text x="934.4" y="408.3" font-size="8.3" text-anchor="middle" fill="#2a2a2a" >20</text>
<text x="964.8" y="408.3" font-size="8.3" text-anchor="middle" fill="#2a2a2a" >120</text>
<text x="792.6" y="424.1" font-size="8.3" text-anchor="middle" fill="#2a2a2a" >U</text>
<text x="813" y="423.6" font-size="8.4" text-anchor="start" fill="#444">蓝色</text>
<text x="850.4" y="424.1" font-size="8.3" text-anchor="middle" fill="#2a2a2a" >2.8</text>
<text x="878.6" y="424.1" font-size="8.3" text-anchor="middle" fill="#2a2a2a" >3.2</text>
<text x="907.2" y="424.1" font-size="8.3" text-anchor="middle" fill="#2a2a2a" >3.4</text>
<text x="934.4" y="424.1" font-size="8.3" text-anchor="middle" fill="#2a2a2a" >20</text>
<text x="964.8" y="424.1" font-size="8.3" text-anchor="middle" fill="#2a2a2a" >120</text>
<text x="792.6" y="440.0" font-size="8.3" text-anchor="middle" fill="#2a2a2a" >G</text>
<text x="811" y="439.5" font-size="8" text-anchor="start" fill="#444">黄绿色</text>
<text x="850.4" y="440.0" font-size="8.3" text-anchor="middle" fill="#2a2a2a" >1.8</text>
<text x="878.6" y="440.0" font-size="8.3" text-anchor="middle" fill="#2a2a2a" >2.2</text>
<text x="907.2" y="440.0" font-size="8.3" text-anchor="middle" fill="#2a2a2a" >2.4</text>
<text x="934.4" y="440.0" font-size="8.3" text-anchor="middle" fill="#2a2a2a" >20</text>
<text x="964.8" y="440.0" font-size="8.3" text-anchor="middle" fill="#2a2a2a" >120</text>
<text x="792.6" y="455.8" font-size="8.3" text-anchor="middle" fill="#2a2a2a" >Y</text>
<text x="813" y="455.3" font-size="8.4" text-anchor="start" fill="#444">黄色</text>
<text x="850.4" y="455.8" font-size="8.3" text-anchor="middle" fill="#2a2a2a" >1.8</text>
<text x="878.6" y="455.8" font-size="8.3" text-anchor="middle" fill="#2a2a2a" >2.2</text>
<text x="907.2" y="455.8" font-size="8.3" text-anchor="middle" fill="#2a2a2a" >2.4</text>
<text x="934.4" y="455.8" font-size="8.3" text-anchor="middle" fill="#2a2a2a" >20</text>
<text x="964.8" y="455.8" font-size="8.3" text-anchor="middle" fill="#2a2a2a" >120</text>
<text x="792.6" y="471.6" font-size="8.3" text-anchor="middle" fill="#2a2a2a" >R</text>
<text x="813" y="471.1" font-size="8.4" text-anchor="start" fill="#444">红色</text>
<text x="850.4" y="471.6" font-size="8.3" text-anchor="middle" fill="#2a2a2a" >1.8</text>
<text x="878.6" y="471.6" font-size="8.3" text-anchor="middle" fill="#2a2a2a" >2.2</text>
<text x="907.2" y="471.6" font-size="8.3" text-anchor="middle" fill="#2a2a2a" >2.4</text>
<text x="934.4" y="471.6" font-size="8.3" text-anchor="middle" fill="#2a2a2a" >20</text>
<text x="964.8" y="471.6" font-size="8.3" text-anchor="middle" fill="#2a2a2a" >120</text>
<text x="793" y="400.6" font-size="8.3" text-anchor="middle" fill="#2a2a2a" >RU</text>
<text x="818.5" y="410.6" font-size="6.5" text-anchor="start" fill="#444" transform="rotate(-90 818.5 410.6)">红蓝双色</text>
<text x="823.3" y="392" font-size="6.1" text-anchor="start" fill="#444">蓝色</text>
<text x="823.3" y="407.6" font-size="6.1" text-anchor="start" fill="#444">红色</text>
<text x="782.8" y="491.3" font-size="8.5" text-anchor="start" fill="#444">灯发光颜色</text>
<text x="832.2" y="491.6" font-size="8.6" text-anchor="middle" fill="#2a2a2a" >X</text>
<text x="783.3" y="501" font-size="7.5" text-anchor="start" fill="#2a2a2a" >Emitted color X</text>
<text x="839.2" y="485.6" font-size="8" text-anchor="start" fill="#444">最小</text>
<text x="869.6" y="485.6" font-size="8" text-anchor="start" fill="#444">一般</text>
<text x="898.9" y="485.6" font-size="8" text-anchor="start" fill="#444">最大</text>
<text x="854.6" y="502.4" font-size="8.2" text-anchor="start" fill="#444">顺向电压</text>
<text x="887.6" y="502.2" font-size="7.6" text-anchor="start" fill="#2a2a2a" >(V)</text>
<text x="923.5" y="485.2" font-size="8.25" text-anchor="start" fill="#444">最大操</text>
<text x="923.5" y="496.2" font-size="8.25" text-anchor="start" fill="#444">作电流</text>
<text x="948.6" y="506.4" font-size="8.4" text-anchor="end" fill="#2a2a2a" >(mA)</text>
<text x="951.8" y="485.2" font-size="8.25" text-anchor="start" fill="#444">最大脉</text>
<text x="951.8" y="496.2" font-size="8.25" text-anchor="start" fill="#444">冲电流</text>
<text x="977.4" y="506.4" font-size="8.4" text-anchor="end" fill="#2a2a2a" >(mA)</text>
</g>
<g id="iso" stroke-linejoin="round" stroke-linecap="round">
<path d="M343.9,331 Q344.2,320.6 352.8,319.6 L387.2,324.2" stroke="#1c1c1c" stroke-width="0.8" fill="none" />
<path d="M345.8,330 Q346.2,322.2 353.9,321.4 L384,325.9" stroke="#1c1c1c" stroke-width="0.7" fill="none" />
<path d="M349.5,331.5 Q350,324 357.2,323.7 L377,326.6" stroke="#1c1c1c" stroke-width="0.8" fill="none" />
<path d="M357.2,333.7 L392.8,326.4" stroke="#1c1c1c" stroke-width="0.7" fill="none" />
<path d="M360.5,330.6 L396,322.8" stroke="#1c1c1c" stroke-width="0.7" fill="none" />
<path d="M396.2,323.7 L401,322.3 L408.5,323.2 L410.2,325.5" stroke="#1c1c1c" stroke-width="0.7" fill="none" />
<path d="M300.6,444.4 L308.6,336 Q309.6,327 318.3,326.2 L357.2,332.6" stroke="#1c1c1c" stroke-width="0.8" fill="none" />
<path d="M303.9,442.2 L311.5,337.5 Q312.3,328.5 319.5,327.7 L350.6,332.6" stroke="#1c1c1c" stroke-width="0.7" fill="none" />
<path d="M308.9,446.7 L317.7,337.5 Q318.2,331.8 322.5,332 L345,335.1" stroke="#1c1c1c" stroke-width="0.8" fill="none" />
<path d="M300.6,444.4 Q300.8,449.8 305,449.6 Q308.2,449.4 308.9,446.7" stroke="#1c1c1c" stroke-width="0.8" fill="none" />
<path d="M323.5,454.2 L323.9,373.3 Q324.2,368.3 328.3,368 L341.7,368.9 L346.5,372.6" stroke="#1c1c1c" stroke-width="0.8" fill="none" />
<path d="M325.3,454.2 L325.6,374 Q326,370 329.5,369.8 L340,370.2" stroke="#1c1c1c" stroke-width="0.7" fill="none" />
<path d="M330,454.2 L329.4,375 Q329.6,372 331.8,371.9 L339.4,371.7 L343.9,374.8" stroke="#1c1c1c" stroke-width="0.8" fill="none" />
<path d="M323.5,454.2 H330" stroke="#1c1c1c" stroke-width="0.8" fill="none" />
<path d="M341.7,368.9 L339.4,371.7" stroke="#1c1c1c" stroke-width="0.6" fill="none" />
<path d="M344.4,337 L349.4,337.6 M343.9,340 L343.6,350 M344.4,337 L343.9,340 M343.6,350 L349.4,351 M344,346 L349.4,346.8 M343.5,350 L337.8,407" stroke="#1c1c1c" stroke-width="0.7" fill="none" />
<path d="M346.5,351 L340.5,409" stroke="#1c1c1c" stroke-width="0.7" fill="none" />
<path d="M349.4,333.1 L356.7,334.2 V411.9 M349.4,333.1 V411.7" stroke="#1c1c1c" stroke-width="0.8" fill="none" />
<path d="M349.4,333.1 L353.8,331.9 L361,333 L356.7,334.2" stroke="#1c1c1c" stroke-width="0.7" fill="none" />
<path d="M347.2,356.3 L356.7,357.3 M347.2,356.3 V389.2" stroke="#1c1c1c" stroke-width="0.7" fill="none" />
<path d="M343.9,389.4 L349.4,389.1 M343.9,389.4 V398.9 L337.2,400.6 V410 L349.4,411.7 M343.9,398.9 L346,399.8 V389.6 M337.2,400.6 L339.4,401.6 L346,399.8" stroke="#1c1c1c" stroke-width="0.8" fill="none" />
<path d="M347.2,389.2 L356.7,390.2" stroke="#1c1c1c" stroke-width="0.7" fill="none" />
<path d="M358.3,335.9 V412.5 M358.3,335.9 L378.3,338.7 V362" stroke="#1c1c1c" stroke-width="0.8" fill="none" />
<path d="M359.2,359.2 L378.3,362 M359.2,359.2 V367.2 M358.3,367.2 L378.3,369.4 V362" stroke="#1c1c1c" stroke-width="0.8" fill="none" />
<polygon points="357.2,371.1 378.3,373.9 378.3,378.3 357.2,376.7" fill="#161616" stroke="#161616" stroke-width="0.6"/>
<path d="M358.3,380 L378.3,382.8 V390 M359.2,380.2 V387.8 M358.3,387.8 L378.3,390 V414.8" stroke="#1c1c1c" stroke-width="0.8" fill="none" />
<path d="M349.4,411.7 L380.6,415 L392.5,413.4" stroke="#1c1c1c" stroke-width="0.8" fill="none" />
<path d="M349.4,413.4 L380.6,416.6 L392.5,415" stroke="#1c1c1c" stroke-width="0.7" fill="none" />
<path d="M378.3,338.7 Q378.6,337.8 379.6,337.6 L392.5,335.3" stroke="#1c1c1c" stroke-width="0.8" fill="none" />
<path d="M379.6,337.6 V353.4 M378.3,354.4 L379.6,353.4 L386,354.3 L392.5,353.6" stroke="#1c1c1c" stroke-width="0.7" fill="none" />
<ellipse cx="387" cy="346.2" rx="3.3" ry="5.0" fill="#fff" stroke="#1c1c1c" stroke-width="0.8"/>
<path d="M387.2,341.2 L392.5,340.6 M387.2,351.2 L392.5,350.6" stroke="#1c1c1c" stroke-width="0.7" fill="none" />
<path d="M388.6,342 Q386.4,346.2 388.6,350.4" stroke="#1c1c1c" stroke-width="0.6" fill="none" />
<path d="M391.8,353.8 Q376.5,374.5 391.8,395.6" stroke="#1c1c1c" stroke-width="0.7" fill="none" />
<path d="M392.3,357.5 Q380.5,374.5 392.3,391.8" stroke="#1c1c1c" stroke-width="0.6" fill="none" />
<path d="M386.6,361.8 L391.4,361.3 V369 L386.4,369.5 M387.4,379.2 L392.2,378.8 V387 L387.6,387.5" stroke="#1c1c1c" stroke-width="0.6" fill="none" />
<path d="M378.3,373.9 L392.5,372 M378.3,378.3 L392.5,376.6" stroke="#1c1c1c" stroke-width="0.7" fill="none" />
<path d="M378.3,396.6 L379.6,395.6 L386,396.4 L392.5,395.6 M379.6,395.6 V412.8" stroke="#1c1c1c" stroke-width="0.7" fill="none" />
<ellipse cx="387" cy="403.8" rx="3.3" ry="5.0" fill="#fff" stroke="#1c1c1c" stroke-width="0.8"/>
<path d="M387.2,398.8 L392.5,398.2 M387.2,408.8 L392.5,408.2" stroke="#1c1c1c" stroke-width="0.7" fill="none" />
<path d="M388.6,399.6 Q386.4,403.8 388.6,408" stroke="#1c1c1c" stroke-width="0.6" fill="none" />
<path d="M337.8,410 L336.7,436.7 Q337.5,441.8 340.6,442.8 Q343.4,441.8 344.4,436.7 L347.2,411.3" stroke="#1c1c1c" stroke-width="0.8" fill="none" />
<path d="M341.1,410.5 L339.4,437" stroke="#1c1c1c" stroke-width="0.7" fill="none" />
<path d="M355.6,412.6 L355.9,426.1 L360,432.2 L358.9,437.8 L355.9,443.3 L356.1,453.3 Q356.6,456 358.9,456.1 L360.6,456.1 Q362.8,456 363.3,453.3 L363.9,443.3 L367.8,436.7 L368.3,432.2 L364.8,425 L365,413.8" stroke="#1c1c1c" stroke-width="0.8" fill="none" />
<path d="M363,413.6 L362.8,426 L366.2,432.5 L365.8,436.5 L362,443 L361.4,453.5" stroke="#1c1c1c" stroke-width="0.7" fill="none" />
<path d="M358,447 L361.8,447.4" stroke="#1c1c1c" stroke-width="0.6" fill="none" />
<path d="M373.3,414.3 V444.4 H380 V415" stroke="#1c1c1c" stroke-width="0.8" fill="none" />
<path d="M375,414.5 V444.4" stroke="#1c1c1c" stroke-width="0.7" fill="none" />
<path d="M395.6,424 L395.6,427.2 L391.7,436.7 L392.8,446.7 Q394.5,449.8 397.2,450 L399.4,448.9 L398.9,446.7 L398.3,437.8 L404.5,429.6" stroke="#1c1c1c" stroke-width="0.8" fill="none" />
<path d="M397.5,427.6 L394,436.9 L395,446.5 M394,436.9 L398.3,437.8" stroke="#1c1c1c" stroke-width="0.7" fill="none" />
<path d="M392.5,333.1 V422.2 L414.4,427.8 M392.8,333.1 L414.4,337" stroke="#1c1c1c" stroke-width="0.9" fill="none" />
<path d="M412.3,336.7 V427.3 M414.4,337 V427.8 M416.7,339.2 V427.2" stroke="#1c1c1c" stroke-width="0.7" fill="none" />
<path d="M392.8,333.1 L453.3,320.7 L473.6,324.6 Q475.8,325.2 475.8,327.5 V414 Q475.8,416.3 473.8,416.9 L416.7,427.2 L414.4,427.8" stroke="#1c1c1c" stroke-width="0.9" fill="none" />
<path d="M414.4,337 L473.6,324.6" stroke="#1c1c1c" stroke-width="0.9" fill="none" />
<path d="M416.7,339.2 L472.5,327.4 Q474.3,327.2 474.3,329 M474.3,413 Q474.3,414.8 472.8,415.2 L416.7,425.2" stroke="#555" stroke-width="0.6" fill="none" />
<line x1="447.3" y1="346.9" x2="447.3" y2="381.1" stroke="#242424" stroke-width="5.2" stroke-linecap="round"/>
<path d="M433.7,362.3 C431,368.5 429.2,376 429.2,382.5 C429.2,395.6 436.3,407.5 445.4,406.5 C456.3,405.2 465.1,393.7 465.1,378.2 C465.1,371.5 463.6,363.5 461.1,357.4" stroke="#242424" stroke-width="5.2" stroke-linecap="round" fill="none"/>
<line x1="302.2" y1="443.1" x2="283.47" y2="466.85" stroke="#1c1c1c" stroke-width="0.8" />
<circle cx="302.2" cy="443.1" r="2" fill="#111"/>
<circle cx="278.7" cy="472.9" r="7.7" stroke="#1c1c1c" stroke-width="0.9" fill="none"/>
<text x="278.7" y="477.2" font-size="12" text-anchor="middle" fill="#111" >2</text>
<line x1="325.9" y1="453.3" x2="305.13" y2="473.44" stroke="#1c1c1c" stroke-width="0.8" />
<circle cx="325.9" cy="453.3" r="2" fill="#111"/>
<circle cx="299.6" cy="478.8" r="7.7" stroke="#1c1c1c" stroke-width="0.9" fill="none"/>
<text x="299.6" y="483.1" font-size="12" text-anchor="middle" fill="#111" >5</text>
<line x1="340.6" y1="442.2" x2="326.96" y2="472.48" stroke="#1c1c1c" stroke-width="0.8" />
<circle cx="340.6" cy="442.2" r="2" fill="#111"/>
<circle cx="323.8" cy="479.5" r="7.7" stroke="#1c1c1c" stroke-width="0.9" fill="none"/>
<text x="323.8" y="483.8" font-size="12" text-anchor="middle" fill="#111" >4</text>
<line x1="358.4" y1="447.7" x2="349.84" y2="475.83" stroke="#1c1c1c" stroke-width="0.8" />
<circle cx="358.4" cy="447.7" r="2" fill="#111"/>
<circle cx="347.6" cy="483.2" r="7.7" stroke="#1c1c1c" stroke-width="0.9" fill="none"/>
<text x="347.6" y="487.5" font-size="12" text-anchor="middle" fill="#111" >1</text>
<line x1="374.4" y1="444.7" x2="381.1" y2="474.19" stroke="#1c1c1c" stroke-width="0.8" />
<circle cx="374.4" cy="444.7" r="2" fill="#111"/>
<circle cx="382.8" cy="481.7" r="7.7" stroke="#1c1c1c" stroke-width="0.9" fill="none"/>
<text x="382.8" y="486.0" font-size="12" text-anchor="middle" fill="#111" >6</text>
<line x1="398.3" y1="448.9" x2="415.04" y2="468.81" stroke="#1c1c1c" stroke-width="0.8" />
<circle cx="398.3" cy="448.9" r="2" fill="#111"/>
<circle cx="420" cy="474.7" r="7.7" stroke="#1c1c1c" stroke-width="0.9" fill="none"/>
<text x="420" y="479.0" font-size="12" text-anchor="middle" fill="#111" >3</text>
</g>
</svg>
</body></html>
